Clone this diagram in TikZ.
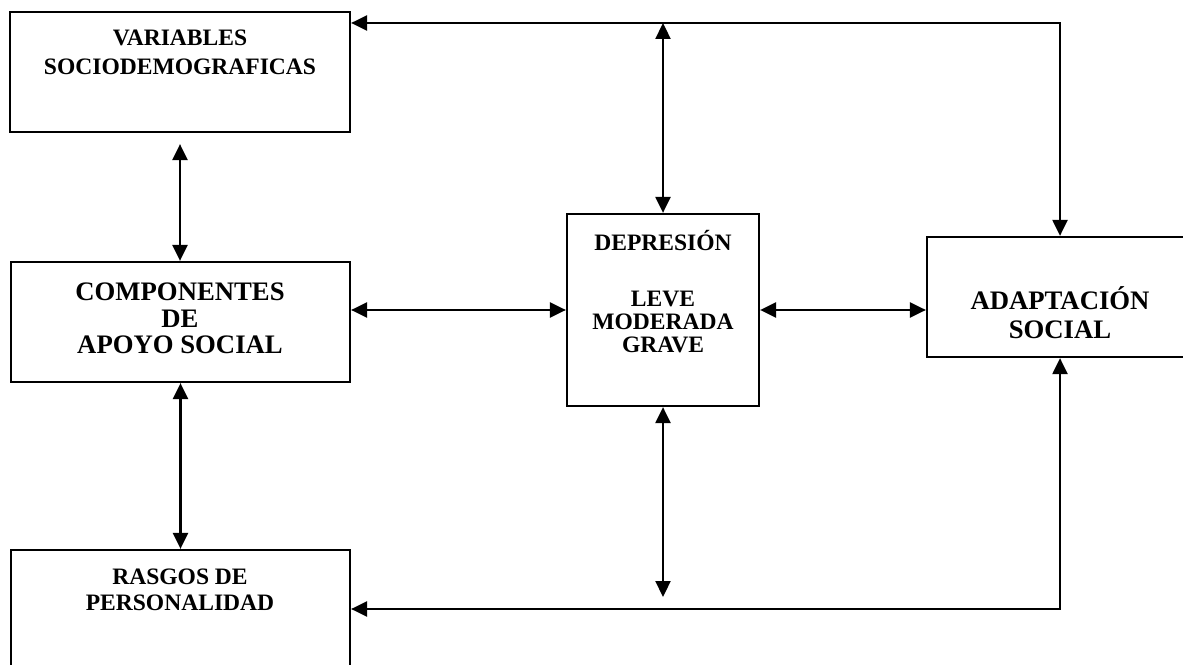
\documentclass[tikz,border=0pt]{standalone}
\usepackage{fontspec}
\setmainfont{Liberation Serif}
\usetikzlibrary{arrows.meta}

\begin{document}
\begin{tikzpicture}[x=0.02cm,y=-0.02cm,
    box/.style={draw,line width=1.3pt,inner sep=0pt},
    dbl/.style={{Triangle[length=0.32cm,width=0.3cm]}-{Triangle[length=0.32cm,width=0.3cm]},line width=1.3pt},
    txt/.style={align=center,font=\bfseries\fontsize{13.4}{#1}\selectfont},
    bigtxt/.style={align=center,font=\bfseries\fontsize{15.2}{#1}\selectfont}]
    \clip (0,0) rectangle (1183,665);
    \node[box,minimum width=6.8cm,minimum height=2.4cm] (var) at (180,72) {};
    \node[box,minimum width=6.78cm,minimum height=2.4cm] (comp) at (180.5,322) {};
    \node[box,minimum width=6.78cm,minimum height=2.4cm] (ras) at (180.5,610) {};
    \node[box,minimum width=3.84cm,minimum height=3.84cm] (dep) at (663,310) {};
    \node[box,minimum width=5.32cm,minimum height=2.4cm] (ada) at (1060,297) {};
    \node[txt=16.4pt] (vartxt) at (180,52.5) {VARIABLES\\SOCIODEMOGRAFICAS};
    \node[bigtxt=15pt] (comptxt) at (180,318.5) {COMPONENTES\\DE\\APOYO SOCIAL};
    \node[txt=14.7pt] (rastxt) at (180,590) {RASGOS DE\\PERSONALIDAD};
    \node[txt=13pt] (deptxt) at (663,291.5) {DEPRESIÓN\\[0.68cm]LEVE\\MODERADA\\GRAVE};
    \node[bigtxt=16.4pt] (adatxt) at (1060,312.5) {ADAPTACIÓN\\SOCIAL};
    \coordinate (topR) at (1060,23);
    \coordinate (botR) at (1060,609);
    \coordinate (depEnd) at (663,597);
    \draw[dbl] (var.east |- topR) -- (topR) -- (ada.north);
    \draw[dbl] (dep.north |- topR) -- (dep.north);
    \draw[dbl] (ras.east |- botR) -- (botR) -- (ada.south);
    \draw[dbl] (dep.south) -- (depEnd);
    \draw[dbl,shorten <=0.22cm] (var.south) -- (var.south |- comp.north);
    \draw[dbl] (comp.south) -- (comp.south |- ras.north);
    \draw[dbl] (comp.east |- dep.west) -- (dep.west);
    \draw[dbl] (dep.east) -- (dep.east -| ada.west);
\end{tikzpicture}
\end{document}
